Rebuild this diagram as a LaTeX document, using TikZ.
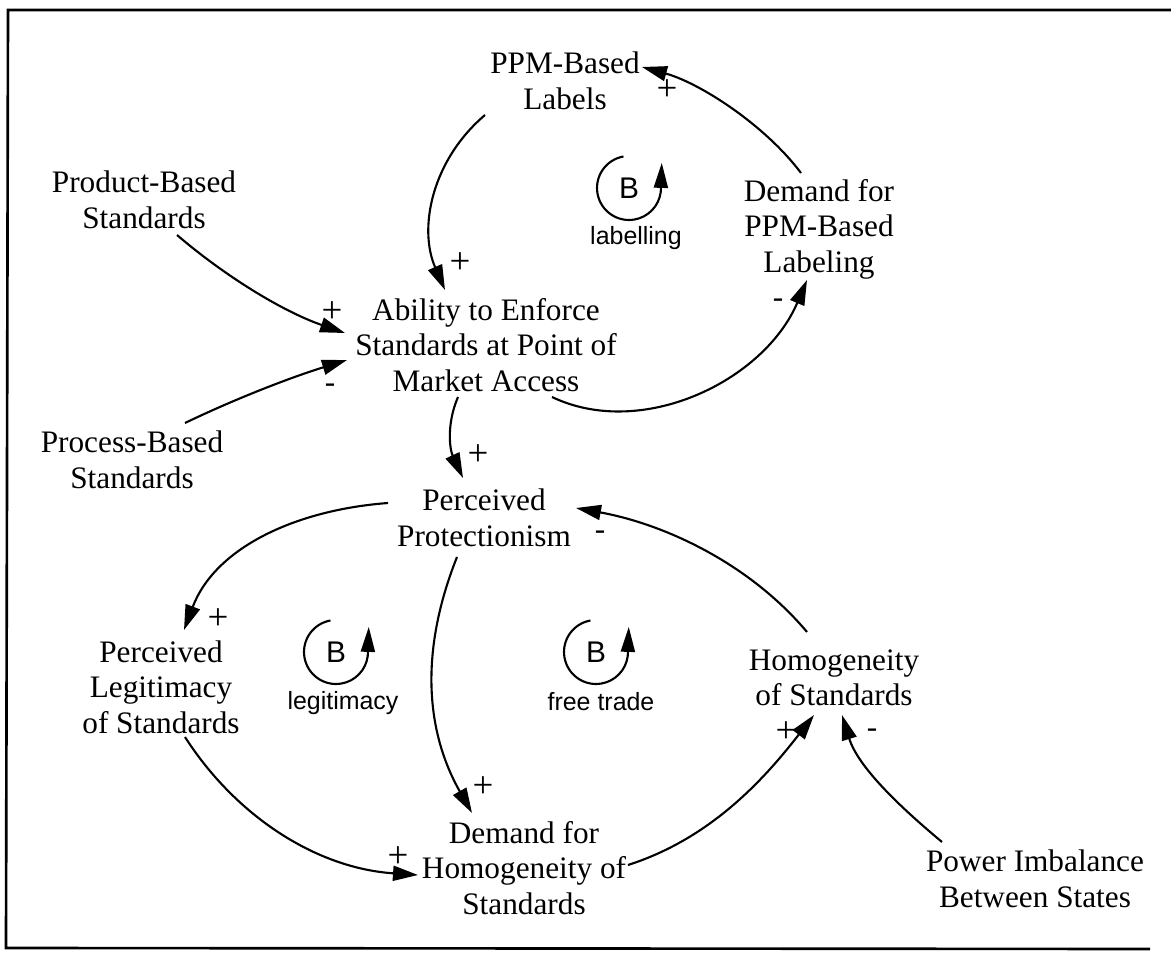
\documentclass[tikz,border=0pt]{standalone}
\usepackage{fontspec}
\setmainfont{Liberation Serif}
\newfontfamily\loopfont{Liberation Sans}
\usetikzlibrary{arrows.meta,calc}

\tikzset{
  var/.style={align=center, inner sep=0pt, font=\fontsize{17.8}{20.2}\selectfont},
  pol/.style={inner sep=0pt, font=\fontsize{21}{22}\selectfont},
  neg/.style={inner sep=0pt, font=\fontsize{17.8}{20.2}\selectfont},
  link/.style={line width=1.2pt, -{Triangle[length=0.5cm,width=0.3cm]}},
  loopmark/.style={inner sep=0pt, font=\loopfont\fontsize{14.2}{16}\selectfont},
  loopletter/.style={inner sep=0pt, font=\loopfont\fontsize{17}{18}\selectfont},
  loopline/.style={line width=1.2pt, -{Triangle[length=0.5cm,width=0.28cm]}},
  frame/.style={line width=1.5pt}
}

\begin{document}
\begin{tikzpicture}[x=0.02cm, y=0.02cm]
  \useasboundingbox (0,0) rectangle (1171,-953);

  % border
  \coordinate (fa) at (1171,-10);
  \coordinate (fb) at (8,-10);
  \coordinate (fc) at (6,-948);
  \coordinate (fd) at (1150,-949);
  \draw[frame] (fa) -- (fb) -- (fc) -- (fd);

  % variables
  \node[var] (ppm)   at (565,-81)  {PPM-Based\\Labels};
  \node[var] (prod)  at (144,-200) {Product-Based\\Standards};
  \node[var] (abil)  at (486,-345) {Ability to Enforce\\Standards at Point of\\Market Access};
  \node[var] (dppm)  at (819,-229) {Demand for\\PPM-Based\\Labeling};
  \node[var] (proc)  at (132,-460) {Process-Based\\Standards};
  \node[var] (prot)  at (484,-518) {Perceived\\Protectionism};
  \node[var] (legit) at (161,-687) {Perceived\\Legitimacy\\of Standards};
  \node[var] (homog) at (834,-678) {Homogeneity\\of Standards};
  \node[var] (dhom)  at (524,-868) {Demand for\\Homogeneity of\\Standards};
  \node[var] (power) at (1035,-879) {Power Imbalance\\Between States};

  % causal links
  \draw[link] ($(dppm)+(-18,56)$) .. controls +(-36,48) and +(58,-16) .. ($(ppm)+(77,14)$);
  \draw[link] ($(ppm)+(-80,-34)$) .. controls +(-53,-45) and +(-27,62) .. ($(abil)+(-41,55)$);
  \draw[link] ($(abil)+(66,-52)$) .. controls +(90,-43) and +(-43,-101) .. ($(dppm)+(-12,-51)$);
  \draw[link] ($(prod)+(33,-35)$) .. controls +(49,-42) and +(-61,21) .. ($(abil)+(-141,12)$);
  \draw[link] ($(proc)+(53,37)$) .. controls +(52,25) and +(-55,-17) .. ($(abil)+(-139,-15)$);
  \draw[link] ($(abil)+(-28,-52)$) .. controls +(-12,-28) and +(-13,28) .. ($(prot)+(-21,40)$);
  \draw[link] ($(homog)+(-27,46)$) .. controls +(-58,69) and +(88,-16) .. ($(prot)+(92,10)$);
  \draw[link] ($(prot)+(-96,15)$) .. controls +(-93,-7) and +(31,82) .. ($(legit)+(23,57)$);
  \draw[link] ($(prot)+(-27,-39)$) .. controls +(-37,-93) and +(-47,83) .. ($(dhom)+(-52,55)$);
  \draw[link] ($(legit)+(24,-50)$) .. controls +(50,-78) and +(-103,7) .. ($(dhom)+(-106,-7)$);
  \draw[link] ($(dhom)+(104,3)$) .. controls +(81,26) and +(-52,-67) .. ($(homog)+(-20,-37)$);
  \draw[link] ($(power)+(-93,37)$) .. controls +(-42,35) and +(16,-52) .. ($(homog)+(8,-37)$);

  % link polarities
  \node[pol] (s1)  at (667,-90)  {+};
  \node[pol] (s2)  at (460,-263) {+};
  \node[neg] (s3)  at (778,-303) {-};
  \node[pol] (s4)  at (332,-312) {+};
  \node[neg] (s5)  at (330,-388) {-};
  \node[pol] (s6)  at (478,-455) {+};
  \node[neg] (s7)  at (600,-535) {-};
  \node[pol] (s8)  at (218,-619) {+};
  \node[pol] (s9)  at (483,-787) {+};
  \node[pol] (s10) at (398,-857) {+};
  \node[pol] (s11) at (786,-732) {+};
  \node[neg] (s12) at (872,-733) {-};

  % loop markers
  \node[loopletter] (lab)  at (629,-188) {B};
  \node[loopmark]   (labt) at (636,-238) {labelling};
  \draw[loopline] (lab.center) ++(100:0.64cm) arc[start angle=100, end angle=353, radius=0.64cm] -- ++(1,29);

  \node[loopletter] (leg)  at (336,-652) {B};
  \node[loopmark]   (legt) at (343,-703) {legitimacy};
  \draw[loopline] (leg.center) ++(100:0.64cm) arc[start angle=100, end angle=353, radius=0.64cm] -- ++(1,29);

  \node[loopletter] (ft)   at (596,-652) {B};
  \node[loopmark]   (ftt)  at (601,-702) {free trade};
  \draw[loopline] (ft.center) ++(100:0.64cm) arc[start angle=100, end angle=353, radius=0.64cm] -- ++(1,29);
\end{tikzpicture}
\end{document}
